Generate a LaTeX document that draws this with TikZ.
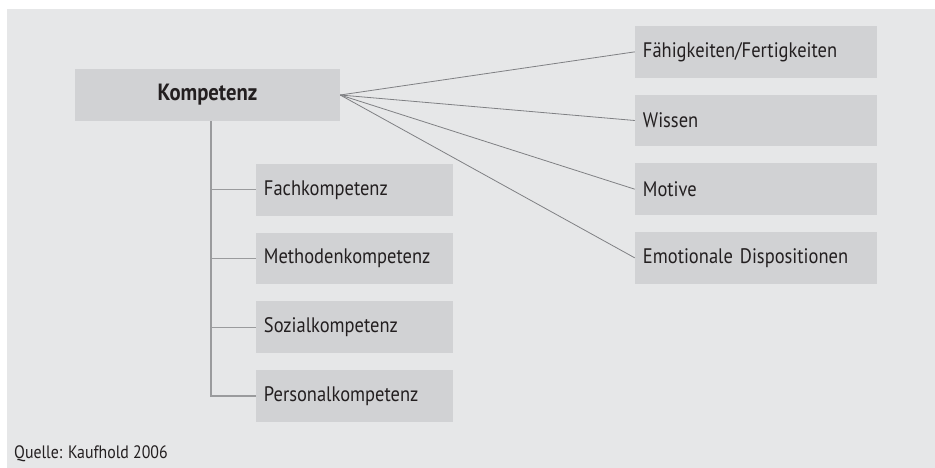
\documentclass[tikz,border=0pt]{standalone}
\usepackage{fontspec}
\setmainfont[FakeStretch=0.88]{PT Sans}
\definecolor{bgc}{HTML}{E6E7E8}
\definecolor{boxc}{HTML}{D1D2D4}
\definecolor{linec}{HTML}{7F8083}
\definecolor{treec}{HTML}{9A9B9D}
\definecolor{txtc}{HTML}{231F20}
\begin{document}
\begin{tikzpicture}[x=1pt,y=-1pt,
  base/.style={fill=boxc, draw=none, minimum height=51.7pt, inner ysep=0pt, inner xsep=8pt,
    align=left, text=txtc, font=\fontsize{21}{23}\selectfont},
  leftbox/.style={base, text width=180.7pt},
  rightbox/.style={base, text width=225.7pt},
  mainbox/.style={fill=boxc, draw=none, minimum width=265pt, minimum height=52pt, text=txtc,
    font=\fontsize{23.5}{25}\selectfont\bfseries},
  conn/.style={draw=linec, line width=0.8pt},
  tree/.style={draw=treec, line width=1.3pt}]
\useasboundingbox (0,0) rectangle (935,468);
\fill[white] (0,0) rectangle (935,468);
\fill[bgc] (7,9) rectangle (935,468);
\node[mainbox] (komp) at (207.5,95) {Kompetenz};
% right column
\node[rightbox] (r1) at (755.8,51.85) {Fähigkeiten/Fertigkeiten};
\node[rightbox] (r2) at (755.8,120.5) {Wissen};
\node[rightbox] (r3) at (755.8,189.2) {Motive};
\node[rightbox] (r4) at (755.8,257.85) {Emotionale Dispositionen};
% left column
\node[leftbox] (l1) at (354.3,189.85) {Fachkompetenz};
\node[leftbox] (l2) at (354.3,258.5) {Methodenkompetenz};
\node[leftbox] (l3) at (354.3,327.2) {Sozialkompetenz};
\node[leftbox] (l4) at (354.3,395.85) {Personalkompetenz};
% tree
\coordinate (ttop) at (211,121);
\draw[tree] (ttop) -- (ttop |- l4.west) -- (l4.west);
\draw[tree] (ttop |- l1.west) -- (l1.west);
\draw[tree] (ttop |- l2.west) -- (l2.west);
\draw[tree] (ttop |- l3.west) -- (l3.west);
% fan
\foreach \r in {r1,r2,r3,r4} \draw[conn] (komp.east) -- (\r.west);
\node[anchor=base west, inner sep=0pt, text=txtc, font=\fontsize{18}{20}\selectfont] (src) at (14,458) {Quelle: Kaufhold 2006};
\end{tikzpicture}
\end{document}
